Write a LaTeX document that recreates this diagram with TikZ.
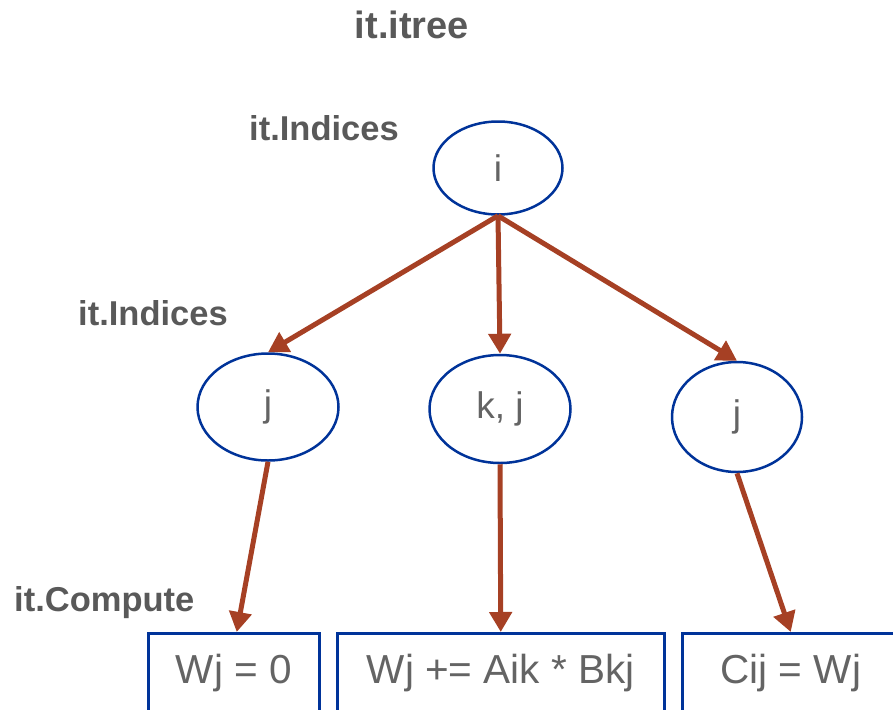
\documentclass[tikz,border=0pt]{standalone}
\usepackage{fontspec}
\setmainfont{Liberation Sans}
\usetikzlibrary{positioning,arrows.meta,shapes.geometric}
\definecolor{lvlgray}{RGB}{89,89,89}
\definecolor{txtgray}{RGB}{100,100,100}
\definecolor{ovalblue}{RGB}{0,51,153}
\definecolor{edgered}{RGB}{166,64,36}
\begin{document}
\begin{tikzpicture}[x=1pt,y=-1pt,
lvl/.style={font=\fontsize{34.5}{40}\selectfont\bfseries,
text=lvlgray,anchor=west,inner sep=0pt},
idx/.style={ellipse,draw=ovalblue,line width=2.5pt,
text=txtgray,font=\fontsize{37}{42}\selectfont,inner sep=0pt},
stmt/.style={rectangle,draw=ovalblue,line width=2.5pt,anchor=north west,
minimum height=80pt,inner sep=0pt,
text=txtgray,font=\fontsize{40.5}{46}\selectfont},
edge/.style={draw=edgered,line width=5pt,
-{Triangle[length=20pt,width=22pt]}}]
\useasboundingbox (0,0) rectangle (893,709);
% level labels
\node[lvl,anchor=center,font=\fontsize{38}{42}\selectfont\bfseries] (title) at (412,25) {it.itree};
\node[lvl] (lvl1) at (249,128) {it.Indices};
\node[lvl] (lvl2) at (78,313) {it.Indices};
\node[lvl] (lvl3) at (14,603) {it.Compute};
% index nodes
\node[idx,minimum width=129pt,minimum height=93pt] (i) at (498,168) {i};
\node[idx,minimum width=141pt,minimum height=107pt] (jl) at (268,407) {j};
\node[idx,minimum width=141pt,minimum height=108pt] (kj) at (500,409) {k, j};
\node[idx,minimum width=130pt,minimum height=110pt] (jr) at (737,417) {j};
% compute boxes
\node[stmt,minimum width=171pt] (b1) at (147,632) {Wj = 0};
\node[stmt,minimum width=327pt] (b2) at (336,632) {Wj += Aik * Bkj};
\node[stmt,minimum width=217pt] (b3) at (681,632) {Cij = Wj};
% edges
\draw[edge] (i.south) -- (jl.north);
\draw[edge] (i.south) -- (kj.north);
\draw[edge] (i.south) -- (jr.north);
\draw[edge] (jl.south) -- ([xshift=3pt]b1.north);
\draw[edge] (kj.south) -- (b2.north);
\draw[edge] (jr.south) -- (b3.north);
\end{tikzpicture}
\end{document}
